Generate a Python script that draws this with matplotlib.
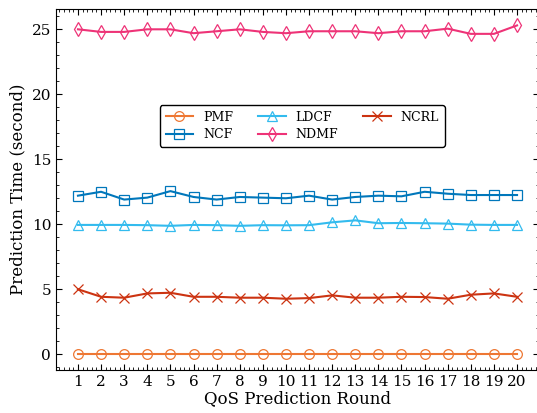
import numpy as np
import matplotlib
matplotlib.use('Agg')
from matplotlib import pyplot as plt

# 数据
rounds = list(range(1, 21))
pmf = [0.05] * 20
ncf = [12.2, 12.5, 11.9, 12.05, 12.55, 12.1, 11.9, 12.1, 12.05, 12.0,
       12.2, 11.9, 12.1, 12.2, 12.15, 12.5, 12.35, 12.25, 12.25, 12.25]
ldcf = [9.95, 9.95, 9.95, 9.93, 9.88, 9.95, 9.93, 9.88, 9.93, 9.92,
        9.93, 10.15, 10.3, 10.08, 10.1, 10.08, 10.05, 9.97, 9.95, 9.95]
ndmf = [25.0, 24.8, 24.8, 25.0, 25.0, 24.7, 24.85, 25.0, 24.8, 24.7,
        24.85, 24.85, 24.85, 24.7, 24.85, 24.85, 25.05, 24.65, 24.65, 25.3]
ncrl = [5.0, 4.42, 4.35, 4.68, 4.73, 4.42, 4.42, 4.35, 4.35, 4.27,
        4.32, 4.53, 4.35, 4.35, 4.42, 4.4, 4.27, 4.58, 4.68, 4.42]

series = [('PMF', pmf, 'o', '#EE7733'),
          ('NCF', ncf, 's', '#0077BB'),
          ('LDCF', ldcf, '^', '#33BBEE'),
          ('NDMF', ndmf, 'd', '#EE3377'),
          ('NCRL', ncrl, 'x', '#CC3311')]

plt.rcParams['font.family'] = ['DejaVu Serif']
plt.rcParams['xtick.direction'] = 'in'
plt.rcParams['ytick.direction'] = 'in'
plt.rcParams['xtick.top'] = True
plt.rcParams['ytick.right'] = True
plt.rcParams['xtick.minor.visible'] = True
plt.rcParams['ytick.minor.visible'] = True

fig = plt.figure(figsize=(5.37, 4.13), dpi=100)
ax = fig.add_axes([56 / 537, 43 / 413, 483 / 537, 361 / 413])

for name, vals, mk, c in series:
    ax.plot(rounds, vals, marker=mk, color=c, label=name, linewidth=1.5,
            markersize=7, markerfacecolor='none', markeredgewidth=0.9)

ax.set_xticks(rounds)
ax.tick_params(which='major', length=4, width=0.8, labelsize=11)
ax.tick_params(which='minor', length=2, width=0.6)
ax.set_xlabel('QoS Prediction Round', fontsize=12, labelpad=1)
ax.set_ylabel('Prediction Time (second)', fontsize=12)

leg = ax.legend(ncol=3, loc='center', bbox_to_anchor=(0.51, 0.676),
                fontsize=9, frameon=True, fancybox=True, framealpha=1,
                edgecolor='black', handlelength=2.2, columnspacing=2.0,
                borderpad=0.45, labelspacing=0.35)
leg.get_frame().set_linewidth(1.0)

plt.savefig('out.png', dpi=100)
